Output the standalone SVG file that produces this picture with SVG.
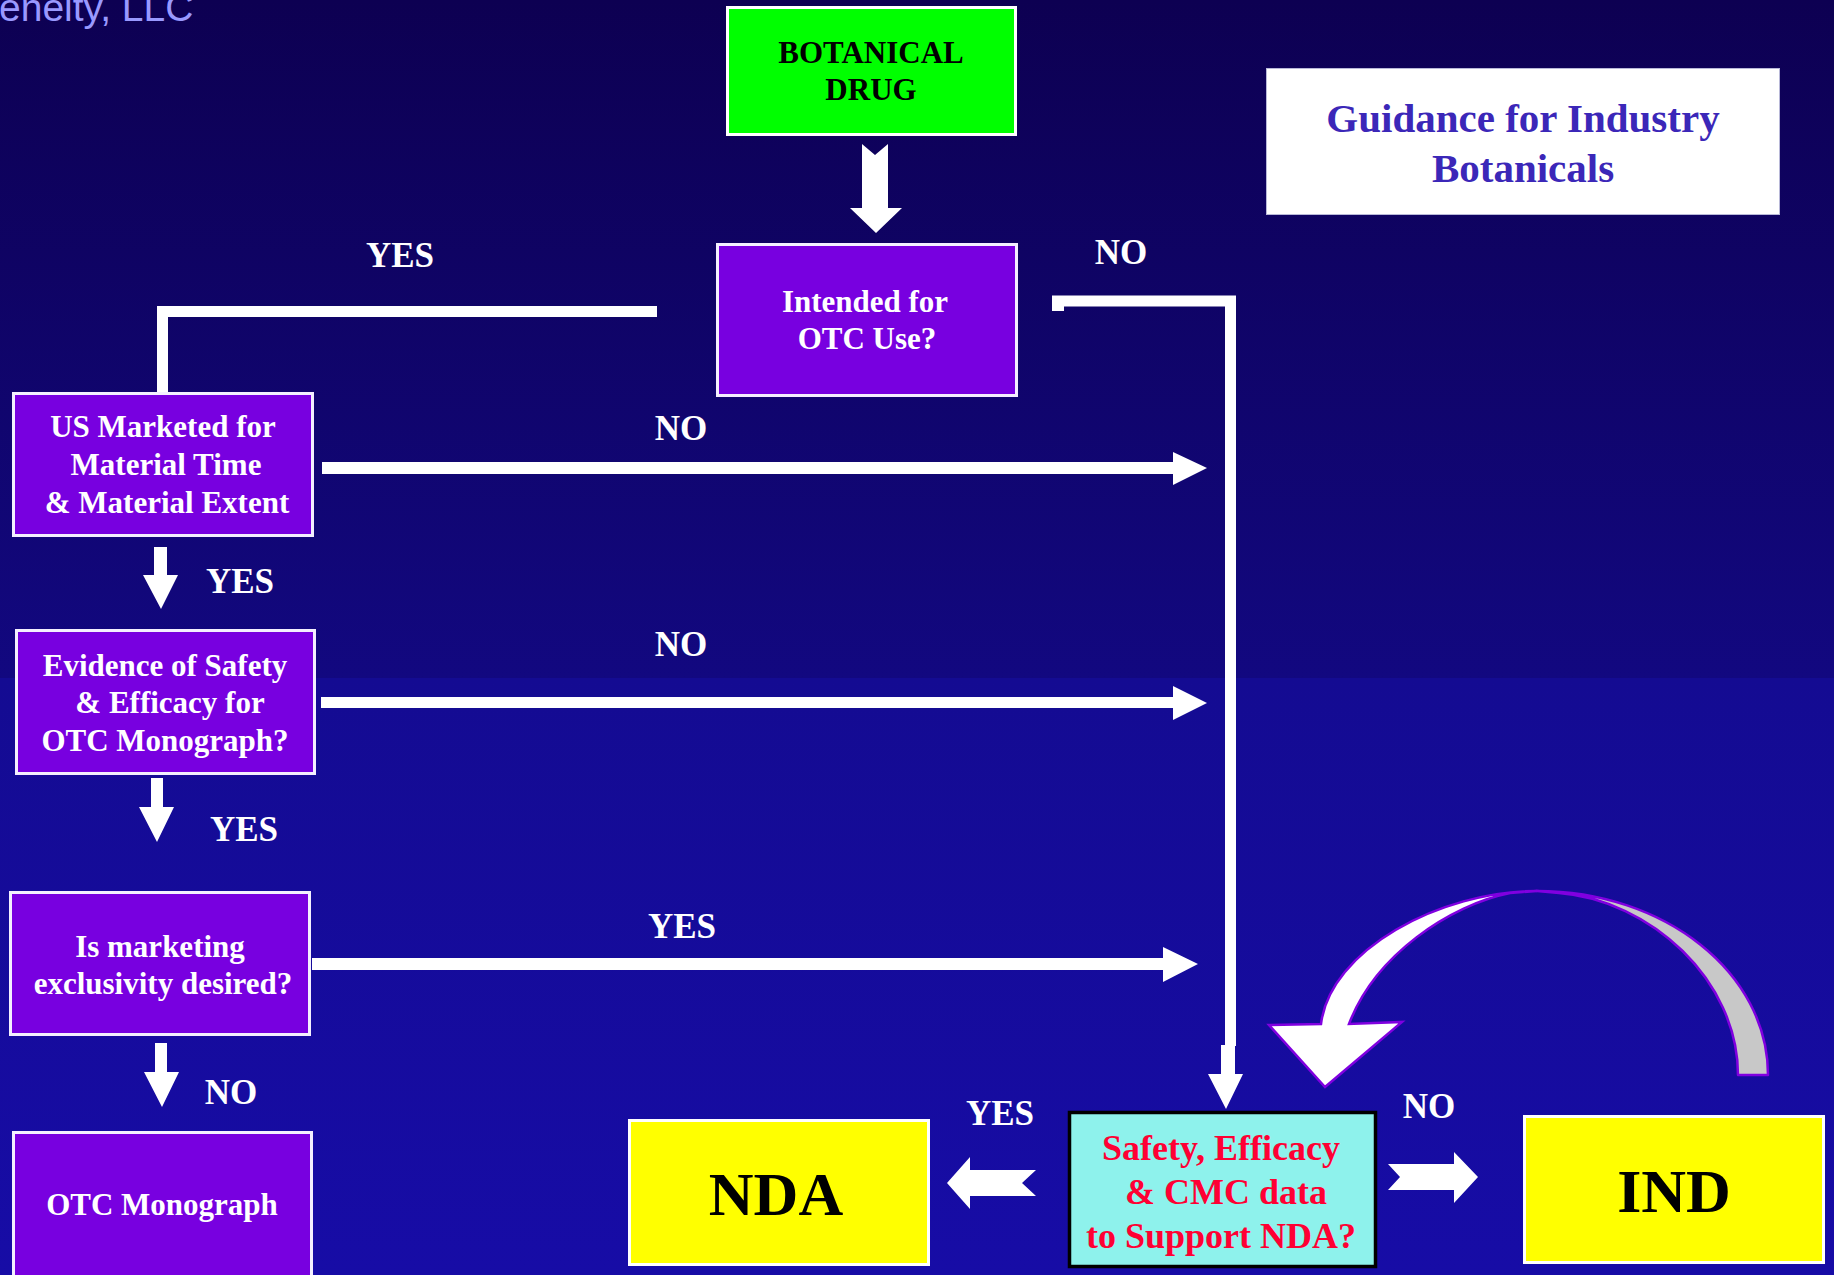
<svg xmlns="http://www.w3.org/2000/svg" width="1834" height="1275" viewBox="0 0 1834 1275">
<defs>
<linearGradient id="bgTop" x1="0" y1="0" x2="0" y2="1">
<stop offset="0" stop-color="#0d0052"/>
<stop offset="1" stop-color="#120880"/>
</linearGradient>
<linearGradient id="bgBot" x1="0" y1="0" x2="0" y2="1">
<stop offset="0" stop-color="#140b92"/>
<stop offset="1" stop-color="#170ca6"/>
</linearGradient>
<style>
.q{fill:#7800e0;stroke:#f4f0ff;stroke-width:3}
.qt{font-family:"Liberation Serif","Times New Roman",serif;font-weight:bold;font-size:31px;fill:#ffffff;text-anchor:middle}
.lbl{font-family:"Liberation Serif","Times New Roman",serif;font-weight:bold;font-size:35px;fill:#ffffff;text-anchor:middle}
.big{font-family:"Liberation Serif","Times New Roman",serif;font-weight:bold;font-size:62px;fill:#000000;text-anchor:middle}
.arr{fill:#ffffff}
.ln{fill:none;stroke:#ffffff;stroke-width:11;stroke-linejoin:miter;stroke-linecap:butt}
</style>
</defs>
<rect x="0" y="0" width="1834" height="678" fill="url(#bgTop)"/>
<rect x="0" y="678" width="1834" height="597" fill="url(#bgBot)"/>
<text x="-1" y="21" font-family="Liberation Sans, Arial, sans-serif" font-size="39" fill="#9999ff">eneity, LLC</text>

<g id="connectors">
<polygon class="arr" points="862,144 875,155 888,144 888,208 902,208 876,233 850,208 862,208"/>
<polyline class="ln" points="657,311.5 162.5,311.5 162.5,392"/>
<polyline class="ln" points="1052,301 1230.5,301 1230.5,1046"/>
<rect class="arr" x="1052" y="296" width="12" height="15"/>
<polygon class="arr" points="1221,1045 1235,1045 1235,1074 1243,1074 1226,1109 1208,1074 1221,1074"/>
<polygon class="arr" points="322,462 1173,462 1173,452 1207,468 1173,485 1173,474 322,474"/>
<polygon class="arr" points="321,697 1173,697 1173,686 1207,703 1173,720 1173,708 321,708"/>
<polygon class="arr" points="312,958 1163,958 1163,947 1198,964 1163,982 1163,970 312,970"/>
<polygon class="arr" points="154,547 167,547 167,575 178,575 161,609 143,575 154,575"/>
<polygon class="arr" points="151,778 163,778 163,807 174,807 157,842 139,807 151,807"/>
<polygon class="arr" points="155,1043 167,1043 167,1072 179,1072 162,1107 144,1072 155,1072"/>
<polygon class="arr" points="947,1183 970,1157 970,1170 1036,1170 1022,1183 1036,1196 970,1196 970,1209"/>
<polygon class="arr" points="1478,1177 1454,1152 1454,1164 1388,1164 1400,1177 1388,1190 1454,1190 1454,1203"/>
<path d="M1768,1075 C1768,973 1665,891 1537,891 L1559,893 C1650,900 1738,980 1738,1075 Z" fill="#c8c8c8" stroke="#8000e0" stroke-width="2.5" stroke-linejoin="round"/>
<path d="M1537,891 C1440,891 1330,950 1321,1024 L1269,1025 L1325,1087 L1402,1022 L1349,1024 C1375,955 1450,905 1510,893 Z" fill="#ffffff" stroke="#8000e0" stroke-width="2.5" stroke-linejoin="miter"/>
<text class="lbl" x="400" y="267">YES</text>
<text class="lbl" x="1121" y="264">NO</text>
<text class="lbl" x="681" y="440">NO</text>
<text class="lbl" x="681" y="656">NO</text>
<text class="lbl" x="682" y="938">YES</text>
<text class="lbl" x="240" y="593">YES</text>
<text class="lbl" x="244" y="841">YES</text>
<text class="lbl" x="231" y="1104">NO</text>
<text class="lbl" x="1000" y="1125">YES</text>
<text class="lbl" x="1429" y="1118">NO</text>
</g>

<g id="botanical-drug">
<rect x="727.5" y="7.5" width="288" height="127" fill="#00ff00" stroke="#ffffff" stroke-width="3"/>
<text class="qt" x="871" y="63" style="fill:#000000">BOTANICAL</text>
<text class="qt" x="871" y="100" style="fill:#000000">DRUG</text>
</g>

<g id="intended-otc">
<rect class="q" x="717.5" y="244.5" width="299" height="151"/>
<text class="qt" x="865" y="312">Intended for</text>
<text class="qt" x="867" y="349">OTC Use?</text>
</g>

<g id="guidance">
<rect x="1266.5" y="68.5" width="513" height="146" fill="#ffffff" stroke="#b8b8d8" stroke-width="1"/>
<text x="1523" y="132" font-family="Liberation Serif, Times New Roman, serif" font-weight="bold" font-size="41" fill="#3b27b8" text-anchor="middle">Guidance for Industry</text>
<text x="1523" y="182" font-family="Liberation Serif, Times New Roman, serif" font-weight="bold" font-size="41" fill="#3b27b8" text-anchor="middle">Botanicals</text>
</g>

<g id="us-marketed">
<rect class="q" x="13.5" y="393.5" width="299" height="142"/>
<text class="qt" x="163" y="437">US Marketed for</text>
<text class="qt" x="166" y="475">Material Time</text>
<text class="qt" x="167" y="513">&amp; Material Extent</text>
</g>

<g id="evidence">
<rect class="q" x="16.5" y="630.5" width="298" height="143"/>
<text class="qt" x="165" y="676">Evidence of Safety</text>
<text class="qt" x="170" y="713">&amp; Efficacy for</text>
<text class="qt" x="165" y="751">OTC Monograph?</text>
</g>

<g id="exclusivity">
<rect class="q" x="10.5" y="892.5" width="299" height="142"/>
<text class="qt" x="160" y="957">Is marketing</text>
<text class="qt" x="163" y="994">exclusivity desired?</text>
</g>

<g id="otc-monograph">
<rect class="q" x="13.5" y="1132.5" width="298" height="170"/>
<text class="qt" x="162" y="1215">OTC Monograph</text>
</g>

<g id="nda">
<rect x="629.5" y="1120.5" width="299" height="144" fill="#ffff00" stroke="#ffffff" stroke-width="3"/>
<text class="big" x="776" y="1215">NDA</text>
</g>

<g id="safety-data">
<rect x="1069.5" y="1112.5" width="306" height="154" fill="#8ef2ec" stroke="#000000" stroke-width="3.5"/>
<text x="1221" y="1160" font-family="Liberation Serif, Times New Roman, serif" font-weight="bold" font-size="36" fill="#ff0033" text-anchor="middle">Safety, Efficacy</text>
<text x="1226" y="1204" font-family="Liberation Serif, Times New Roman, serif" font-weight="bold" font-size="36" fill="#ff0033" text-anchor="middle">&amp; CMC data</text>
<text x="1221" y="1248" font-family="Liberation Serif, Times New Roman, serif" font-weight="bold" font-size="36" fill="#ff0033" text-anchor="middle">to Support NDA?</text>
</g>

<g id="ind">
<rect x="1524.5" y="1116.5" width="299" height="146" fill="#ffff00" stroke="#ffffff" stroke-width="3"/>
<text class="big" x="1674" y="1212">IND</text>
</g>
</svg>
